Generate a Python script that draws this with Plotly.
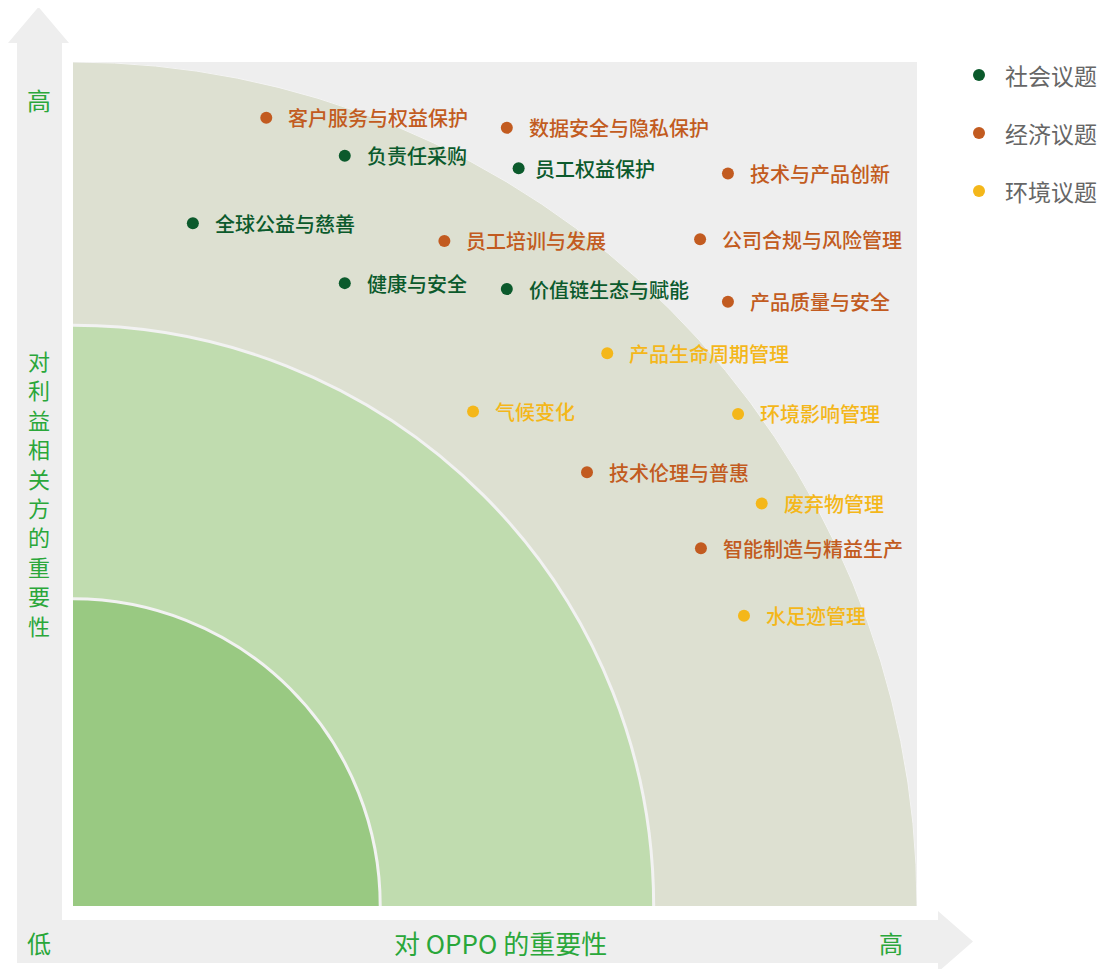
import plotly.graph_objects as go

# ---------------- data ----------------
social_names = ["负责任采购", "员工权益保护", "全球公益与慈善", "健康与安全", "价值链生态与赋能"]
social_x = [32.2, 52.8, 14.2, 32.2, 51.4]
social_y = [88.9, 87.4, 80.9, 73.8, 73.1]

econ_names = ["客户服务与权益保护", "数据安全与隐私保护", "技术与产品创新", "员工培训与发展",
              "公司合规与风险管理", "产品质量与安全", "技术伦理与普惠", "智能制造与精益生产"]
econ_x = [22.9, 51.4, 77.6, 44.0, 74.3, 77.6, 60.9, 74.4]
econ_y = [93.4, 92.2, 86.8, 78.8, 79.0, 71.6, 51.4, 42.4]

env_names = ["产品生命周期管理", "气候变化", "环境影响管理", "废弃物管理", "水足迹管理"]
env_x = [63.3, 47.4, 78.8, 81.6, 79.5]
env_y = [65.5, 58.6, 58.3, 47.7, 34.4]

zone_radii = [100, 68.8, 36.4]
legend_names = ["社会议题", "经济议题", "环境议题"]
x_title = "对 OPPO 的重要性"
y_title = "对利益相关方的重要性"
low_label = "低"
high_label = "高"

# ---------------- styles ----------------
OFF = 8                      # page body margin
W, H = 1105 - 2 * OFF, 969 - OFF
L, R, T, B = 73, 917, 62, 906   # plot area in screen pixels
FONT = "Noto Sans CJK SC"
C_SOC = "#0b5a2c"
C_ECO = "#c25b20"
C_ENV = "#f4b71a"
C_AX = "#2aa73a"
zone_colors = ["#dde0d1", "#c0dcaf", "#99c982"]

def px(xp):
    return (xp - L) / (R - L)

def py(yp):
    return (B - yp) / (B - T)

fig = go.Figure()

groups = [
    (social_names, social_x, social_y, C_SOC),
    (econ_names, econ_x, econ_y, C_ECO),
    (env_names, env_x, env_y, C_ENV),
]
annotations = []
for (names, xs, ys, col), lname in zip(groups, legend_names):
    fig.add_trace(go.Scatter(
        x=xs, y=ys, mode="markers", name=lname,
        marker=dict(size=12, color=col, line=dict(width=0)),
        hoverinfo="text", text=names, showlegend=False, cliponaxis=False,
    ))
    for n, xv, yv in zip(names, xs, ys):
        gap = 14 if n == "员工权益保护" else 20
        annotations.append(dict(
            x=xv, y=yv, xref="x", yref="y", text=n, showarrow=False,
            xanchor="left", yanchor="middle", xshift=gap,
            font=dict(family=FONT, size=20, color=col, weight=500),
        ))

# zones (quarter circles centred at origin)
shapes = []
for r, c in zip(zone_radii, zone_colors):
    outer = r == zone_radii[0]
    shapes.append(dict(
        type="circle", xref="x", yref="y", x0=-r, y0=-r, x1=r, y1=r,
        fillcolor=c, line=dict(color="#f4f4f4" if outer else "#f2f2f2",
                               width=1 if outer else 3),
        layer="below",
    ))

# L-shaped arrows
pts = [(17, 963), (17, 43), (8, 43), (38.5, 7), (69, 43), (62, 43), (62, 920),
       (938, 920), (938, 911), (973, 941.5), (938, 972), (938, 963)]
path = "M " + " L ".join(f"{px(a):.5f},{py(b):.5f}" for a, b in pts) + " Z"
shapes.append(dict(type="path", xref="paper", yref="paper", path=path,
                   fillcolor="#eeeeee", line=dict(width=0), layer="below"))

# legend (manual)
leg_y = [75, 133, 191]
for name, col, yy in zip(legend_names, [C_SOC, C_ECO, C_ENV], leg_y):
    shapes.append(dict(type="circle", xref="paper", yref="paper",
                       x0=px(979 - 6), x1=px(979 + 6), y0=py(yy + 6), y1=py(yy - 6),
                       fillcolor=col, line=dict(width=0)))
    annotations.append(dict(x=px(1003), y=py(yy), xref="paper", yref="paper",
                            text=name, showarrow=False, xanchor="left", yanchor="middle",
                            font=dict(family=FONT, size=23, color="#666666")))

# axis words
for txt, xx, yy, fs in [(high_label, 38.5, 100, 24), (low_label, 38.5, 942, 24),
                        (high_label, 891, 942, 24), (x_title, 500, 942, 26)]:
    annotations.append(dict(x=px(xx), y=py(yy), xref="paper", yref="paper", text=txt,
                            showarrow=False, xanchor="center", yanchor="middle",
                            font=dict(family=FONT, size=fs, color=C_AX)))
# vertical title: one character per annotation, 29.4 px pitch
for i, ch in enumerate(y_title):
    annotations.append(dict(x=px(38.5), y=py(360 + i * 29.4), xref="paper", yref="paper",
                            text=ch, showarrow=False, xanchor="center", yanchor="middle",
                            font=dict(family=FONT, size=22, color=C_AX)))

fig.update_layout(
    width=W, height=H,
    margin=dict(l=L - OFF, r=W - (R - OFF), t=T - OFF, b=H - (B - OFF), pad=0),
    paper_bgcolor="white", plot_bgcolor="#eeeeee",
    xaxis=dict(range=[0, 100], showgrid=False, zeroline=False, showticklabels=False,
               ticks="", showline=False, fixedrange=True),
    yaxis=dict(range=[0, 100], showgrid=False, zeroline=False, showticklabels=False,
               ticks="", showline=False, fixedrange=True),
    shapes=shapes, annotations=annotations, showlegend=False,
)

fig.write_html("out.html")
